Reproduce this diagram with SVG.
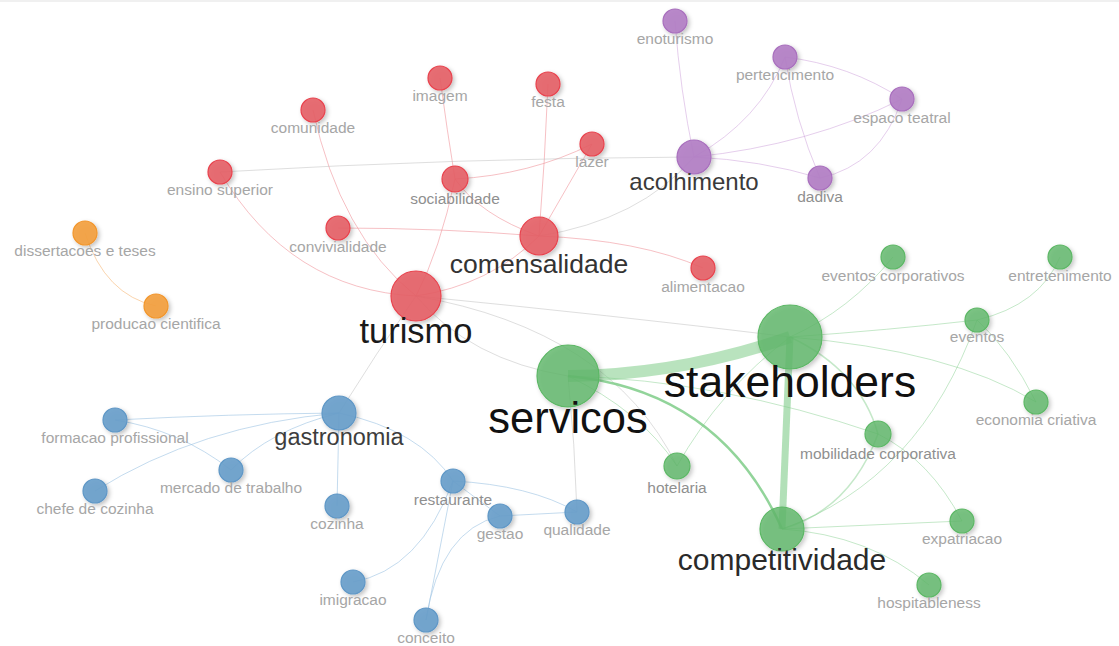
<svg xmlns="http://www.w3.org/2000/svg" width="1119" height="646" viewBox="0 0 1119 646">
<defs>
<filter id="sh" x="-50%" y="-50%" width="200%" height="200%">
<feDropShadow dx="2" dy="2" stdDeviation="2" flood-color="#000" flood-opacity="0.25"/>
</filter>
</defs>
<style>
.e{fill:none;stroke-width:1}
.er{stroke:#ef8d93;stroke-opacity:.55}
.eg{stroke:#bdbdbd;stroke-opacity:.5}
.ep{stroke:#cfa6dc;stroke-opacity:.55}
.en{stroke:#7fcc88;stroke-opacity:.45}
.eb{stroke:#9dc3e3;stroke-opacity:.6}
.eo{stroke:#f7b877;stroke-opacity:.6}
.n{filter:url(#sh);stroke-width:1.2}
.red{fill:#e65f67;fill-opacity:.9;stroke:#e8434d}
.pur{fill:#b37fc6;fill-opacity:.92;stroke:#a86fbd}
.grn{fill:#62b86b;fill-opacity:.82;stroke:#5cb765}
.blu{fill:#6aa0cb;fill-opacity:.92;stroke:#5f97c6}
.org{fill:#f3a141;fill-opacity:.92;stroke:#f2962c}
text{font-family:"Liberation Sans",Arial,sans-serif;text-anchor:middle}
.s{font-size:15.5px;fill:#a6a6a6}
.m{font-size:15.5px;fill:#8f8f8f}
</style>
<rect width="1119" height="646" fill="#ffffff"/>
<line x1="0" y1="1" x2="1119" y2="1" stroke="#f0f0f0" stroke-width="2"/>
<g id="connectors">
<path class="e eo" d="M85,233 Q105,295 156,306"/>
<path class="e er" d="M313,110 Q340,235 416,296"/>
<path class="e er" d="M220,172 Q290,290 416,296"/>
<path class="e er" d="M440,78 Q447,130 455,179"/>
<path class="e er" d="M455,179 Q530,175 592,144"/>
<path class="e er" d="M455,179 Q440,250 416,296"/>
<path class="e er" d="M455,179 Q480,215 539,236"/>
<path class="e er" d="M548,84 Q545,160 539,236"/>
<path class="e er" d="M592,144 L539,236"/>
<path class="e er" d="M338,228 Q440,228 539,236"/>
<path class="e er" d="M539,236 Q640,240 703,268"/>
<path class="e er" d="M539,236 Q490,285 416,296"/>
<path class="e eg" d="M220,172 Q460,158 694,157"/>
<path class="e eg" d="M539,236 Q640,220 694,157"/>
<path class="e eg" d="M416,296 Q375,355 339,413"/>
<path class="e eg" d="M416,296 Q470,360 568,376"/>
<path class="e eg" d="M416,296 Q610,315 790,337"/>
<path class="e eg" d="M416,296 Q610,330 677,466"/>
<path class="e eg" d="M568,376 Q575,445 577,512"/>
<path class="e ep" d="M675,21 Q680,90 694,157"/>
<path class="e ep" d="M785,57 Q760,120 694,157"/>
<path class="e ep" d="M785,57 Q850,65 902,99"/>
<path class="e ep" d="M785,57 Q795,120 820,178"/>
<path class="e ep" d="M694,157 Q810,145 902,99"/>
<path class="e ep" d="M694,157 Q760,160 820,178"/>
<path class="e ep" d="M902,99 Q880,165 820,178"/>
<path class="e en" d="M568,376 Q680,375 790,337" style="stroke-width:12;stroke-opacity:.55"/>
<path class="e en" d="M790,337 Q786,430 782,529" style="stroke-width:7;stroke-opacity:.6"/>
<path class="e en" d="M568,376 Q720,390 782,529" style="stroke-width:2.5;stroke-opacity:.85"/>
<path class="e en" d="M568,376 Q640,410 677,466"/>
<path class="e en" d="M677,466 Q720,390 790,337"/>
<path class="e en" d="M568,376 Q720,380 878,434"/>
<path class="e en" d="M790,337 Q860,370 878,434" style="stroke-width:1.5"/>
<path class="e en" d="M790,337 Q850,310 893,257"/>
<path class="e en" d="M790,337 Q890,330 977,320"/>
<path class="e en" d="M790,337 Q950,350 1036,402"/>
<path class="e en" d="M977,320 Q1040,305 1060,257"/>
<path class="e en" d="M977,320 Q1010,350 1036,402"/>
<path class="e en" d="M977,320 Q920,480 782,529"/>
<path class="e en" d="M878,434 Q850,510 782,529" style="stroke-width:1.5"/>
<path class="e en" d="M878,434 Q930,460 962,521"/>
<path class="e en" d="M782,529 Q870,525 962,521"/>
<path class="e en" d="M782,529 Q870,535 929,585"/>
<path class="e eb" d="M339,413 Q230,414 115,420"/>
<path class="e eb" d="M339,413 Q200,425 95,491"/>
<path class="e eb" d="M339,413 Q270,430 231,470"/>
<path class="e eb" d="M115,420 Q180,430 231,470"/>
<path class="e eb" d="M339,413 L337,506"/>
<path class="e eb" d="M339,413 Q420,430 453,481"/>
<path class="e eb" d="M453,481 Q420,570 353,582"/>
<path class="e eb" d="M453,481 L426,620"/>
<path class="e eb" d="M453,481 L500,516"/>
<path class="e eb" d="M453,481 Q530,485 577,512"/>
<path class="e eb" d="M500,516 L577,512"/>
<path class="e eb" d="M500,516 Q440,530 426,620"/>
</g>
<g id="node-dissertacoes-e-teses"><circle class="n org" cx="85" cy="233" r="12"/><text class="s" x="85" y="256">dissertacoes e teses</text></g>
<g id="node-producao-cientifica"><circle class="n org" cx="156" cy="306" r="12"/><text class="s" x="156" y="329">producao cientifica</text></g>
<g id="node-comunidade"><circle class="n red" cx="313" cy="110" r="12"/><text class="s" x="313" y="133">comunidade</text></g>
<g id="node-imagem"><circle class="n red" cx="440" cy="78" r="12"/><text class="s" x="440" y="101">imagem</text></g>
<g id="node-festa"><circle class="n red" cx="548" cy="84" r="12"/><text class="s" x="548" y="107">festa</text></g>
<g id="node-lazer"><circle class="n red" cx="592" cy="144" r="12"/><text class="s" x="592" y="167">lazer</text></g>
<g id="node-ensino-superior"><circle class="n red" cx="220" cy="172" r="12"/><text class="s" x="220" y="195">ensino superior</text></g>
<g id="node-sociabilidade"><circle class="n red" cx="455" cy="179" r="13"/><text class="m" x="455" y="204">sociabilidade</text></g>
<g id="node-convivialidade"><circle class="n red" cx="338" cy="228" r="12"/><text class="s" x="338" y="252">convivialidade</text></g>
<g id="node-alimentacao"><circle class="n red" cx="703" cy="268" r="12"/><text class="s" x="703" y="292">alimentacao</text></g>
<g id="node-comensalidade"><circle class="n red" cx="539" cy="236" r="19"/><text x="539" y="273" font-size="26.5" fill="#333">comensalidade</text></g>
<g id="node-turismo"><circle class="n red" cx="416" cy="296" r="25"/><text x="416" y="343" font-size="34.5" fill="#1a1a1a">turismo</text></g>
<g id="node-enoturismo"><circle class="n pur" cx="675" cy="21" r="12"/><text class="s" x="675" y="44">enoturismo</text></g>
<g id="node-pertencimento"><circle class="n pur" cx="785" cy="57" r="12"/><text class="s" x="785" y="80">pertencimento</text></g>
<g id="node-espaco-teatral"><circle class="n pur" cx="902" cy="99" r="12"/><text class="s" x="902" y="123">espaco teatral</text></g>
<g id="node-dadiva"><circle class="n pur" cx="820" cy="178" r="12"/><text class="m" x="820" y="202">dadiva</text></g>
<g id="node-acolhimento"><circle class="n pur" cx="694" cy="157" r="17"/><text x="694" y="190" font-size="24" fill="#3a3a3a">acolhimento</text></g>
<g id="node-eventos-corporativos"><circle class="n grn" cx="893" cy="257" r="12"/><text class="s" x="893" y="281">eventos corporativos</text></g>
<g id="node-entretenimento"><circle class="n grn" cx="1060" cy="257" r="12"/><text class="s" x="1060" y="281">entretenimento</text></g>
<g id="node-eventos"><circle class="n grn" cx="977" cy="320" r="12"/><text class="s" x="977" y="342">eventos</text></g>
<g id="node-economia-criativa"><circle class="n grn" cx="1036" cy="402" r="12"/><text class="s" x="1036" y="425">economia criativa</text></g>
<g id="node-mobilidade-corporativa"><circle class="n grn" cx="878" cy="434" r="13"/><text class="m" x="878" y="459">mobilidade corporativa</text></g>
<g id="node-hotelaria"><circle class="n grn" cx="677" cy="466" r="13"/><text class="m" x="677" y="493">hotelaria</text></g>
<g id="node-expatriacao"><circle class="n grn" cx="962" cy="521" r="12"/><text class="s" x="962" y="544">expatriacao</text></g>
<g id="node-hospitableness"><circle class="n grn" cx="929" cy="585" r="12"/><text class="s" x="929" y="608">hospitableness</text></g>
<g id="node-competitividade"><circle class="n grn" cx="782" cy="529" r="22"/><text x="782" y="570" font-size="30" fill="#2a2a2a">competitividade</text></g>
<g id="node-servicos"><circle class="n grn" cx="568" cy="376" r="31"/><text x="568" y="433" font-size="43.5" fill="#111">servicos</text></g>
<g id="node-stakeholders"><circle class="n grn" cx="790" cy="337" r="32"/><text x="790" y="397" font-size="44.5" fill="#111">stakeholders</text></g>
<g id="node-formacao-profissional"><circle class="n blu" cx="115" cy="420" r="12"/><text class="s" x="115" y="443">formacao profissional</text></g>
<g id="node-mercado-de-trabalho"><circle class="n blu" cx="231" cy="470" r="12"/><text class="s" x="231" y="493">mercado de trabalho</text></g>
<g id="node-chefe-de-cozinha"><circle class="n blu" cx="95" cy="491" r="12"/><text class="s" x="95" y="514">chefe de cozinha</text></g>
<g id="node-cozinha"><circle class="n blu" cx="337" cy="506" r="12"/><text class="s" x="337" y="529">cozinha</text></g>
<g id="node-restaurante"><circle class="n blu" cx="453" cy="481" r="12"/><text class="m" x="453" y="505">restaurante</text></g>
<g id="node-gestao"><circle class="n blu" cx="500" cy="516" r="12"/><text class="s" x="500" y="539">gestao</text></g>
<g id="node-qualidade"><circle class="n blu" cx="577" cy="512" r="12"/><text class="s" x="577" y="535">qualidade</text></g>
<g id="node-imigracao"><circle class="n blu" cx="353" cy="582" r="12"/><text class="s" x="353" y="605">imigracao</text></g>
<g id="node-conceito"><circle class="n blu" cx="426" cy="620" r="12"/><text class="s" x="426" y="643">conceito</text></g>
<g id="node-gastronomia"><circle class="n blu" cx="339" cy="413" r="17"/><text x="339" y="445" font-size="23.5" fill="#3d3d3d">gastronomia</text></g>
</svg>
